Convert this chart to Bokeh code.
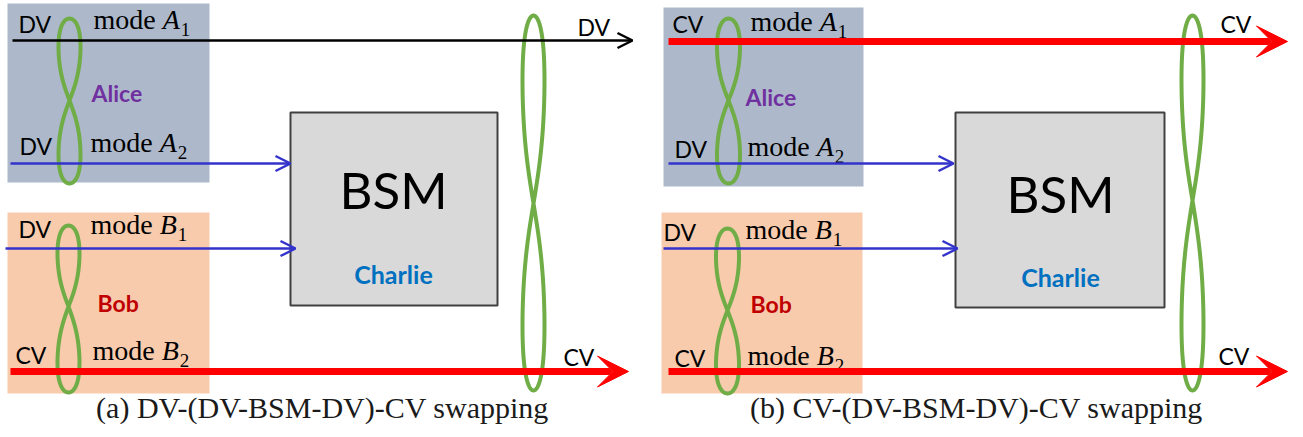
import numpy as np
from bokeh.plotting import figure
from bokeh.models import Range1d, Arrow, OpenHead, VeeHead
from bokeh.core.properties import value
from bokeh.embed import file_html
from bokeh.resources import INLINE

# ---------------- diagram data (reference pixel coordinates) ----------------
# party boxes: Alice, Bob, Charlie (BSM) for panel (a) and (b)
alice_left = [7, 663]
alice_right = [209, 863]
alice_top = [3, 7]
alice_bottom = [182, 186]
bob_left = [7, 661]
bob_right = [209, 862]
bob_top = [212, 212]
bob_bottom = [393, 393]
bsm_left = [290, 955]
bsm_right = [497, 1164]
bsm_top = [112, 112]
bsm_bottom = [305, 307]

# mode lines (x start, x end, y, kind)  kind: DVb=black DV, DV=blue DV, CV=red CV
line_x0 = [12, 10, 5, 10, 668, 668, 663, 668]
line_x1 = [632, 290, 295, 628, 1287, 953, 957, 1287]
line_y = [40, 163, 248, 371, 41, 163, 248, 371]
line_kind = ["DVb", "DV", "DV", "CV", "CV", "DV", "DV", "CV"]

# entanglement loops: centre x, top y, crossing y, bottom y, width
loop_cx = [69, 68, 533, 728, 727, 1192]
loop_top = [18, 225, 15, 18, 228, 15]
loop_cross = [100, 306, 203, 100, 310, 200]
loop_bot = [183, 392, 390, 183, 393, 390]
loop_w = [22, 22, 22, 23, 23, 22]

# DV / CV tags (left x, baseline y)
tag_text = ["DV", "DV", "DV", "CV", "DV", "CV",
            "CV", "DV", "DV", "CV", "CV", "CV"]
tag_x = [18, 19, 18, 15, 577, 563,
         672, 674, 663, 674, 1220, 1218]
tag_y = [32, 154, 237, 363, 35, 365,
         32, 157, 240, 366, 32, 364]

# mode labels (left x, baseline y)
mode_letter = ["A", "A", "B", "B", "A", "A", "B", "B"]
mode_sub = ["1", "2", "1", "2", "1", "2", "1", "2"]
mode_x = [93, 90, 90, 92, 750, 747, 745, 747]
mode_y = [30, 153, 235, 361, 32, 157, 240, 366]

# party names
party_text = ["Alice", "Bob", "Alice", "Bob"]
party_x = [91, 97, 745, 750]
party_y = [101, 311, 105, 312]
party_color = ["#7030A0", "#C00000", "#7030A0", "#C00000"]

# BSM / Charlie (centre x, baseline y)
bsm_cx = [393, 1060]
bsm_y = [208, 212]
charlie_y = [283, 286]

# captions
captions = ["(a) DV-(DV-BSM-DV)-CV swapping", "(b) CV-(DV-BSM-DV)-CV swapping"]
caption_x = [322, 976]
caption_y = [418, 418]

# ---------------- styles ----------------
SANS = "Lato"
SERIF = "Liberation Serif"
GREEN = "#70AD47"
kind_color = {"DVb": "#000000", "DV": "#3333CC", "CV": "#FF0000"}
kind_width = {"DVb": 2.5, "DV": 2.5, "CV": 7}
BASE_SHIFT = 0.38  # renderer places alphabetic text a little low


def base(ys, fs):
    return [y - BASE_SHIFT * fs for y in ys]


W, H = 1303, 437
p = figure(width=W, height=H, x_range=Range1d(0, W), y_range=Range1d(H, 0),
           output_backend="svg", toolbar_location=None, min_border=0)
p.axis.visible = False
p.grid.visible = False
p.outline_line_color = None
p.background_fill_color = "white"
p.border_fill_color = "white"

# boxes
p.quad(left=alice_left, right=alice_right, top=alice_top, bottom=alice_bottom,
       fill_color="#ADB9CA", line_color=None)
p.quad(left=bob_left, right=bob_right, top=bob_top, bottom=bob_bottom,
       fill_color="#F8CBAD", line_color=None)
p.quad(left=bsm_left, right=bsm_right, top=bsm_top, bottom=bsm_bottom,
       fill_color="#D9D9D9", line_color="#404040", line_width=2)

# mode lines with arrowheads
for x0, x1, y, k in zip(line_x0, line_x1, line_y, line_kind):
    c = kind_color[k]
    if k == "CV":
        head = VeeHead(size=31, fill_color=c, line_color=c, line_width=1)
    else:
        head = OpenHead(size=15, line_color=c, line_width=kind_width[k])
    p.add_layout(Arrow(end=head, x_start=x0, y_start=y, x_end=x1, y_end=y,
                       line_color=c, line_width=kind_width[k]))

# figure-eight loops
n = 500
s = np.linspace(0, 1, n)
f = np.tanh(2.5 * s) * np.sqrt(np.clip(1 - s ** 6, 0, None))
f = f / f.max()
for cx, yt, yc, yb, w in zip(loop_cx, loop_top, loop_cross, loop_bot, loop_w):
    h = f * w / 2
    up_y = yc - s * (yc - yt)
    lo_y = yc + s * (yb - yc)
    xs = np.concatenate([cx + h, (cx - h)[::-1], cx + h, (cx - h)[::-1]])
    ys = np.concatenate([up_y, up_y[::-1], lo_y, lo_y[::-1]])
    p.line(xs, ys, line_color=GREEN, line_width=4, line_join="round")

# DV/CV tags
TFS = 23
p.text(x=tag_x, y=base(tag_y, TFS), text=tag_text, text_font=value(SANS),
       text_font_size=f"{TFS}px", text_color="#000000", text_baseline="alphabetic",
       text_align="left")

# mode labels
FS = 28
SFS = 19
mode_w = (0.778 + 0.5 + 0.5 + 0.444 + 0.25) * FS
let_w = 0.64 * FS
p.text(x=mode_x, y=base(mode_y, FS), text=["mode"] * len(mode_x), text_font=value(SERIF),
       text_font_size=f"{FS}px", text_color="#000000", text_baseline="alphabetic")
p.text(x=[x + mode_w for x in mode_x], y=base(mode_y, FS), text=mode_letter,
       text_font=value(SERIF), text_font_style="italic", text_font_size=f"{FS}px",
       text_color="#000000", text_baseline="alphabetic")
p.text(x=[x + mode_w + let_w for x in mode_x], y=base([y + 6 for y in mode_y], SFS),
       text=mode_sub, text_font=value(SERIF), text_font_size=f"{SFS}px",
       text_color="#000000", text_baseline="alphabetic")

# parties
PFS = 23
p.text(x=party_x, y=base(party_y, PFS), text=party_text, text_color=party_color,
       text_font=value(SANS), text_font_style="bold", text_font_size=f"{PFS}px",
       text_baseline="alphabetic")

# BSM and Charlie
BFS = 51
CFS = 25
p.text(x=bsm_cx, y=base(bsm_y, BFS), text=["BSM"] * 2, text_font=value(SANS),
       text_font_size=f"{BFS}px", text_color="#000000", text_align="center",
       text_baseline="alphabetic")
p.text(x=bsm_cx, y=base(charlie_y, CFS), text=["Charlie"] * 2, text_font=value(SANS),
       text_font_style="bold", text_font_size=f"{CFS}px", text_color="#0070C0",
       text_align="center", text_baseline="alphabetic")

# captions
KFS = 30
p.text(x=caption_x, y=base(caption_y, KFS), text=captions, text_font=value(SERIF),
       text_font_size=f"{KFS}px", text_color="#1a1a1a", text_align="center",
       text_baseline="alphabetic")

open("out.html", "w").write(file_html(p, INLINE))
